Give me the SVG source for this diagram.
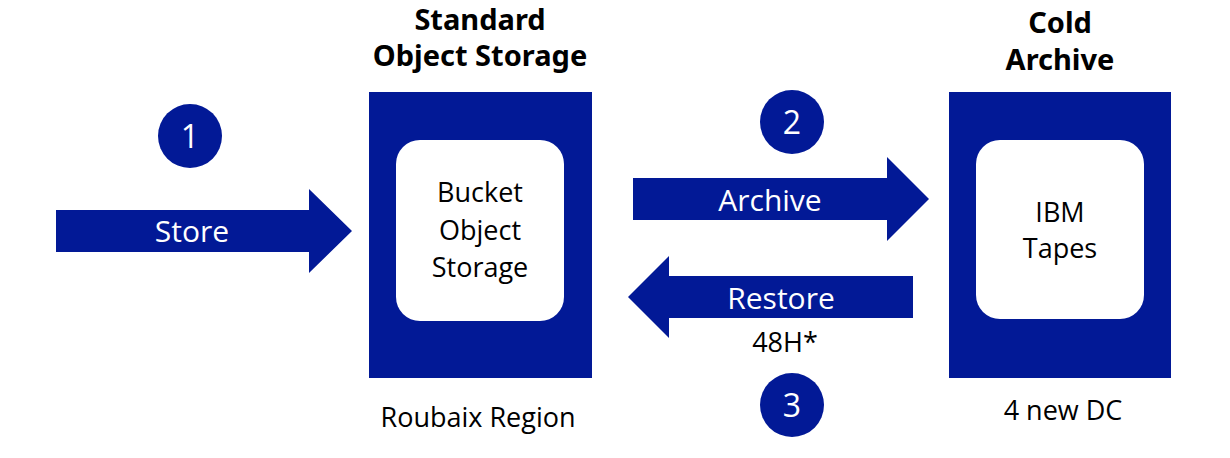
<svg xmlns="http://www.w3.org/2000/svg" width="1230" height="458" viewBox="0 0 1230 458">
<style>
.blue{fill:#021996}
.white{fill:#ffffff}
.title{font-family:"Noto Sans","Liberation Sans",sans-serif;font-weight:bold;font-size:29px;fill:#000;text-anchor:middle}
.body{font-family:"Open Sans","Liberation Sans",sans-serif;font-size:27px;fill:#000;text-anchor:middle}
.lbl{font-family:"Open Sans","Liberation Sans",sans-serif;font-size:30px;fill:#fff;text-anchor:middle}
.num{font-family:"Open Sans","Liberation Sans",sans-serif;font-size:32px;fill:#fff;text-anchor:middle}
</style>
<rect width="1230" height="458" fill="#ffffff"/>
<g id="standard-storage">
<text class="title" x="480" y="30">Standard</text>
<text class="title" x="480" y="66">Object Storage</text>
<rect class="blue" x="369" y="92" width="223" height="286"/>
<rect class="white" x="396" y="140" width="168" height="181" rx="24"/>
<text class="body" x="480" y="202">Bucket</text>
<text class="body" x="480" y="240">Object</text>
<text class="body" x="480" y="277">Storage</text>
<text class="body" x="478" y="427">Roubaix Region</text>
</g>
<g id="cold-archive">
<text class="title" x="1060" y="33">Cold</text>
<text class="title" x="1060" y="70">Archive</text>
<rect class="blue" x="949" y="92" width="222" height="286"/>
<rect class="white" x="976" y="140" width="168" height="179" rx="24"/>
<text class="body" x="1060" y="222">IBM</text>
<text class="body" x="1060" y="258">Tapes</text>
<text class="body" x="1063" y="420">4 new DC</text>
</g>
<g id="connectors">
<g id="store">
<polygon class="blue" points="56,210 309,210 309,189 352,231 309,273 309,252 56,252"/>
<text class="lbl" x="192" y="242">Store</text>
</g>
<g id="archive">
<polygon class="blue" points="633,178 887,178 887,157 929,199 887,241 887,220 633,220"/>
<text class="lbl" x="770" y="211">Archive</text>
</g>
<g id="restore">
<polygon class="blue" points="913,276 669,276 669,256 628,297 669,338 669,318 913,318"/>
<text class="lbl" x="781" y="309">Restore</text>
<text class="body" x="785" y="352">48H*</text>
</g>
</g>
<g id="step1">
<circle class="blue" cx="190" cy="136" r="32"/>
<text class="num" x="190" y="148">1</text>
</g>
<g id="step2">
<circle class="blue" cx="792" cy="122" r="32"/>
<text class="num" x="792" y="134">2</text>
</g>
<g id="step3">
<circle class="blue" cx="792" cy="405" r="32"/>
<text class="num" x="792" y="417">3</text>
</g>
</svg>
